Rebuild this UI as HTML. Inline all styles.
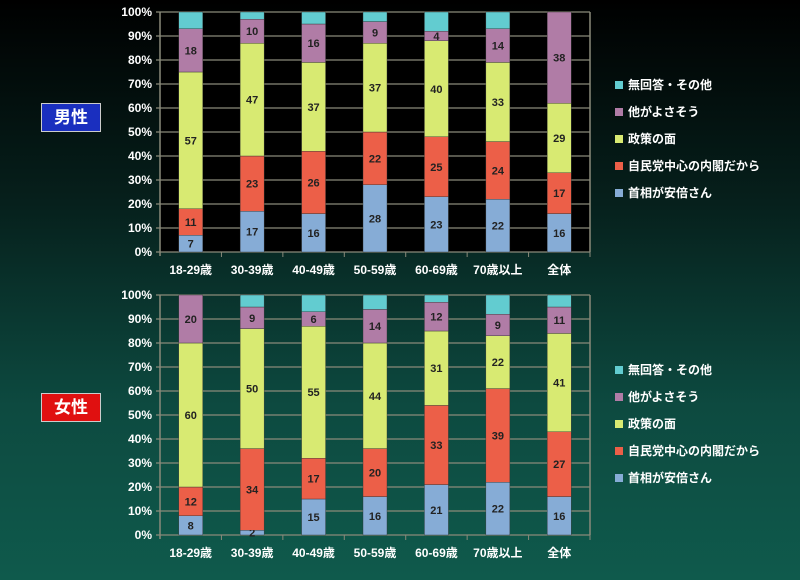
<!DOCTYPE html>
<html><head><meta charset="utf-8"><style>
body{margin:0;width:800px;height:580px;overflow:hidden;background:linear-gradient(#000 0%,#06201c 35%,#0d4a40 70%,#0f5a4c 100%);font-family:"Liberation Sans","Noto Sans CJK JP",sans-serif;}
.tag{position:absolute;left:41px;width:58px;height:27px;color:#fff;font-weight:bold;font-size:17px;text-align:center;line-height:27px;border:1px solid #ccc;}
</style></head><body>
<div class="tag" style="top:103px;background:#1a2fbf;">男性</div>
<div class="tag" style="top:393px;background:#e01010;">女性</div>
<svg id="c" width="800" height="580" style="position:absolute;left:0;top:0"></svg>
<script>
const categories=["18-29歳","30-39歳","40-49歳","50-59歳","60-69歳","70歳以上","全体"];
const seriesNames=["首相が安倍さん","自民党中心の内閣だから","政策の面","他がよさそう","無回答・その他"];
const maleAbe=[7,17,16,28,23,22,16];
const maleLdp=[11,23,26,22,25,24,17];
const malePolicy=[57,47,37,37,40,33,29];
const maleOther=[18,10,16,9,4,14,38];
const femaleAbe=[8,2,15,16,21,22,16];
const femaleLdp=[12,34,17,20,33,39,27];
const femalePolicy=[60,50,55,44,31,22,41];
const femaleOther=[20,9,6,14,12,9,11];
const yTicks=[0,10,20,30,40,50,60,70,80,90,100];
const colors=["#86acd6","#ec5f48","#d8ea72","#b07ca6","#62ccd0"];
const svg=document.getElementById('c');const NS="http://www.w3.org/2000/svg";
function mk(t,a,p){const e=document.createElementNS(NS,t);for(const k in a)e.setAttribute(k,a[k]);(p||svg).appendChild(e);return e;}
function chart(top,bottom,data,name,legTop,bg){
 const x0=160,x1=590,cw=(x1-x0)/categories.length;
 const y=v=>bottom-(v/100)*(bottom-top);
 const g=mk('g',{});
 if(bg)mk('rect',{x:x0,y:top,width:x1-x0,height:bottom-top,fill:bg},g);
 yTicks.forEach(t=>{const l=mk('line',{x1:x0-4,x2:x1,y1:y(t),y2:y(t),stroke:"#8a8a7a","stroke-width":1.2},g);
  const tx=mk('text',{x:x0-8,y:y(t)+4,fill:"#fff","font-size":12,"font-weight":"bold","text-anchor":"end"},g);tx.textContent=t+"%";});
 mk('line',{x1:x0,x2:x0,y1:top,y2:bottom+4,stroke:"#8a8a7a","stroke-width":1.5},g);
 mk('line',{x1:x1,x2:x1,y1:top,y2:bottom,stroke:"#8a8a7a","stroke-width":1.5},g);
 categories.forEach((c,i)=>{const cx=x0+cw*(i+0.5);
  mk('line',{x1:x0+cw*(i+1),x2:x0+cw*(i+1),y1:bottom,y2:bottom+5,stroke:"#8a8a7a"},g);
  const vals=data.map(s=>s[i]);vals.push(Math.max(0,100-vals.reduce((a,b)=>a+b,0)));
  let acc=0;vals.forEach((v,j)=>{const r=mk('rect',{x:cx-12,y:y(acc+v),width:24,height:Math.max(0,y(acc)-y(acc+v)),fill:colors[j],stroke:"#333","stroke-width":0.4},g);
   
   if(j<4&&v>0){const t=mk('text',{x:cx,y:(y(acc)+y(acc+v))/2+4,"font-size":11,"font-weight":"bold","text-anchor":"middle",fill:"#222"},g);t.textContent=v;}
   acc+=v;});
  const t=mk('text',{x:cx,y:bottom+22,fill:"#fff","font-size":12,"font-weight":"bold","text-anchor":"middle"},g);t.textContent=c;});
 for(let j=4;j>=0;j--){const ly=legTop+(4-j)*27;
  const r=mk('rect',{x:615,y:ly-8,width:8,height:8,fill:colors[j]},g);
  const t=mk('text',{x:628,y:ly,fill:"#fff","font-size":12,"font-weight":"bold"},g);t.textContent=seriesNames[j];}
}
chart(12,252,[maleAbe,maleLdp,malePolicy,maleOther],'male-chart',89,"#000");
chart(295,535,[femaleAbe,femaleLdp,femalePolicy,femaleOther],'female-chart',374,null);
</script>
</body></html>
